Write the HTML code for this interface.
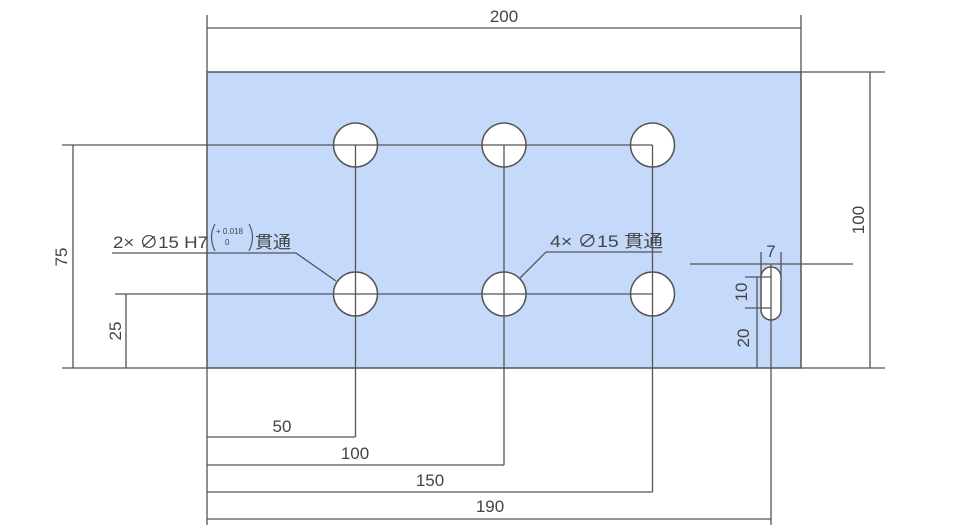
<!DOCTYPE html>
<html><head><meta charset="utf-8"><style>
html,body{margin:0;padding:0;background:#fff;}
svg{display:block;}
text{font-family:"Liberation Sans","Noto Sans CJK JP",sans-serif;fill:#444;}
</style></head><body>
<svg width="960" height="532" viewBox="0 0 960 532">
<rect x="207" y="72" width="594" height="296" fill="#c5d9fb" stroke="#555" stroke-width="1.5"/>
<g stroke="#555" stroke-width="1.5" fill="#fff">
<circle cx="355.5" cy="145" r="22"/>
<circle cx="504" cy="145" r="22"/>
<circle cx="652.5" cy="145" r="22"/>
<circle cx="355.5" cy="294" r="22"/>
<circle cx="504" cy="294" r="22"/>
<circle cx="652.5" cy="294" r="22"/>
<rect x="761" y="267" width="20" height="53" rx="10" ry="10"/>
</g>
<g stroke="#555" stroke-width="1.3" fill="none">
<line x1="207" y1="15" x2="207" y2="72"/><line x1="801" y1="15" x2="801" y2="72"/>
<line x1="207" y1="28" x2="801" y2="28"/>
<line x1="801" y1="72" x2="885" y2="72"/><line x1="801" y1="368" x2="885" y2="368"/>
<line x1="870" y1="72" x2="870" y2="368"/>
<line x1="62" y1="145" x2="652.5" y2="145"/>
<line x1="62" y1="368" x2="207" y2="368"/>
<line x1="73" y1="145" x2="73" y2="368"/>
<line x1="115" y1="294" x2="652.5" y2="294"/>
<line x1="126" y1="294" x2="126" y2="368"/>
<line x1="355.5" y1="145" x2="355.5" y2="437"/>
<line x1="504" y1="145" x2="504" y2="465"/>
<line x1="652.5" y1="145" x2="652.5" y2="492"/>
<line x1="207" y1="368" x2="207" y2="525"/>
<line x1="771" y1="264" x2="771" y2="525"/>
<line x1="207" y1="437" x2="355.5" y2="437"/>
<line x1="207" y1="465" x2="504" y2="465"/>
<line x1="207" y1="492" x2="652.5" y2="492"/>
<line x1="207" y1="519" x2="771" y2="519"/>
<polyline points="112,253 296,253 336,281"/>
<polyline points="662,252 546,252 520,278"/>
<line x1="690" y1="264" x2="853" y2="264"/>
<line x1="761" y1="252" x2="761" y2="276"/>
<line x1="781" y1="252" x2="781" y2="276"/>
<line x1="745" y1="277" x2="771" y2="277"/>
<line x1="745" y1="308" x2="771" y2="308"/>
<line x1="757" y1="277" x2="757" y2="368"/>
</g>
<g font-size="17">
<text x="504" y="22" text-anchor="middle">200</text>
<text x="282" y="432" text-anchor="middle">50</text>
<text x="355" y="459" text-anchor="middle">100</text>
<text x="430" y="486" text-anchor="middle">150</text>
<text x="490" y="512" text-anchor="middle">190</text>
<text transform="translate(864,220) rotate(-90)" text-anchor="middle">100</text>
<text transform="translate(67,257) rotate(-90)" text-anchor="middle">75</text>
<text transform="translate(121,331) rotate(-90)" text-anchor="middle">25</text>
<text transform="translate(747,292) rotate(-90)" text-anchor="middle">10</text>
<text transform="translate(749,338) rotate(-90)" text-anchor="middle">20</text>
<text x="771" y="257" text-anchor="middle">7</text>
<text x="113" y="248" textLength="95" lengthAdjust="spacingAndGlyphs">2× ∅15 H7</text>
<text x="255" y="248" textLength="36" lengthAdjust="spacingAndGlyphs">貫通</text>
<text x="550" y="247" textLength="113" lengthAdjust="spacingAndGlyphs">4× ∅15 貫通</text>
</g>
<text x="216" y="234" font-size="8">+ 0.018</text>
<text x="225" y="245" font-size="8">0</text>
<path d="M215 224 Q208 237 215 251" stroke="#555" fill="none" stroke-width="1.2"/>
<path d="M249 224 Q256 237 249 251" stroke="#555" fill="none" stroke-width="1.2"/>
</svg>
</body></html>
